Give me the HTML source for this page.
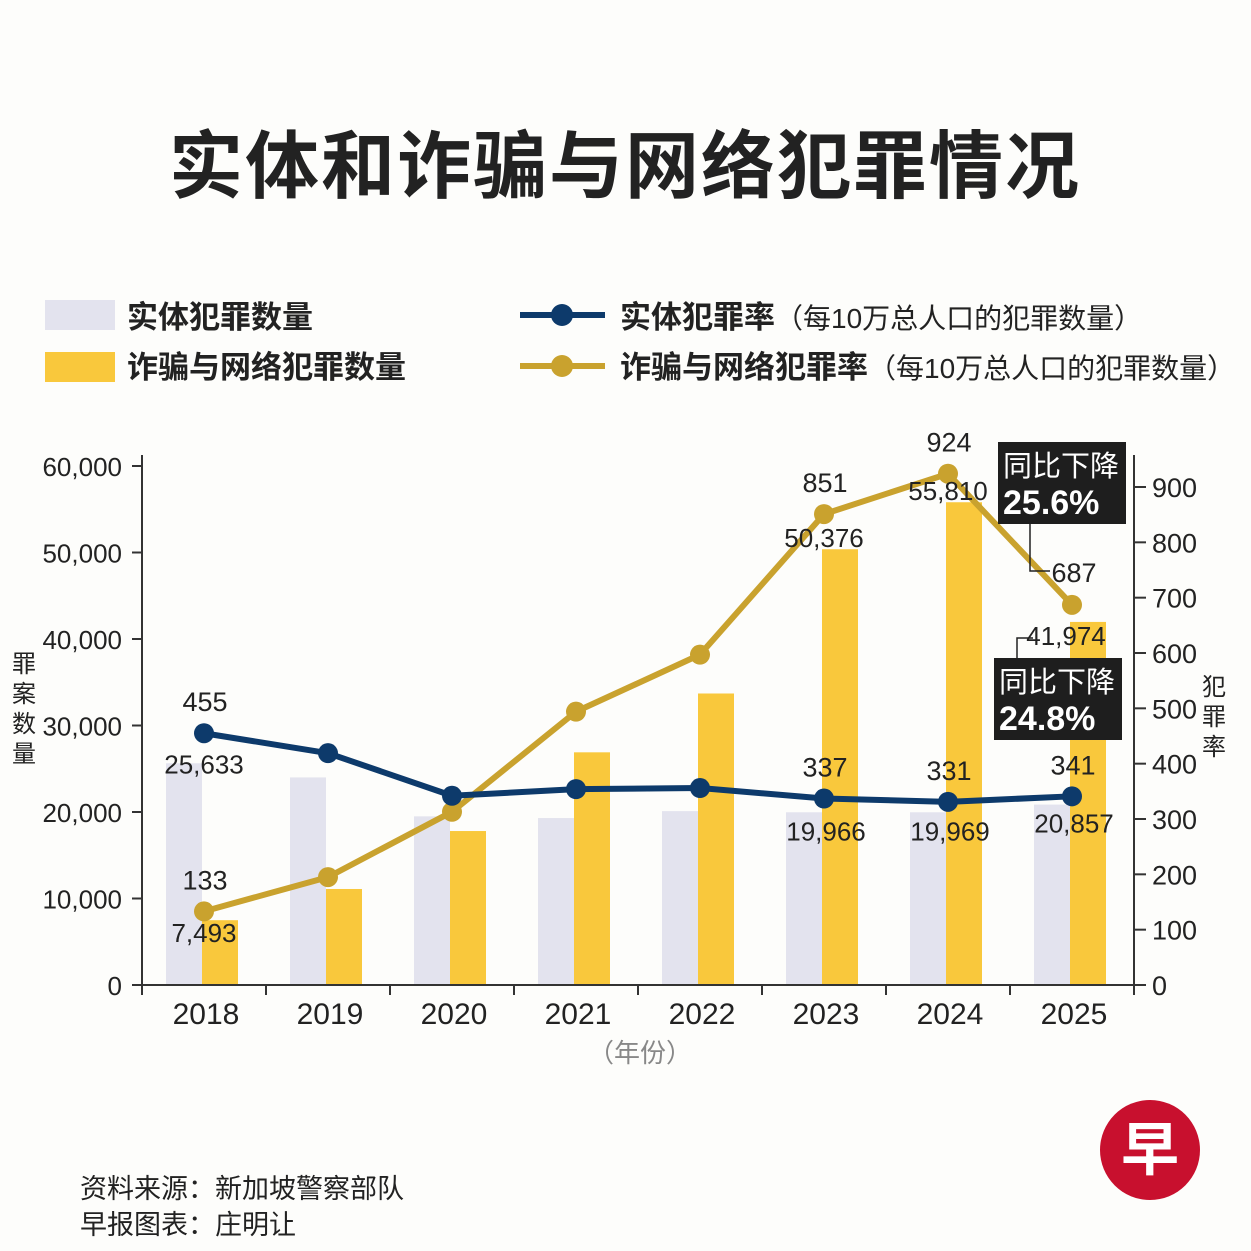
<!DOCTYPE html>
<html><head><meta charset="utf-8"><style>
body{margin:0;background:#fdfdfb;}
svg{display:block;font-family:"Liberation Sans","Noto Sans CJK SC",sans-serif;}
</style></head><body>
<svg id="c" width="1251" height="1251" viewBox="0 0 1251 1251">
<rect width="1251" height="1251" fill="#fdfdfb"/>
<text x="625" y="192" text-anchor="middle" font-size="74" font-weight="bold" fill="#222" letter-spacing="2">实体和诈骗与网络犯罪情况</text>
<g font-weight="bold" font-size="31" fill="#222">
<rect x="45" y="300" width="70" height="30" fill="#e3e3ee"/>
<text x="127" y="328">实体犯罪数量</text>
<rect x="45" y="352" width="70" height="30" fill="#f9c83c"/>
<text x="127" y="378">诈骗与网络犯罪数量</text>
<line x1="520" y1="315" x2="605" y2="315" stroke="#0d3a6b" stroke-width="6"/>
<circle cx="562" cy="315" r="11" fill="#0d3a6b"/>
<text x="620" y="328">实体犯罪率<tspan font-weight="normal" font-size="28">（每10万总人口的犯罪数量）</tspan></text>
<line x1="520" y1="366" x2="605" y2="366" stroke="#c9a22e" stroke-width="6"/>
<circle cx="562" cy="366" r="11" fill="#c9a22e"/>
<text x="620" y="378">诈骗与网络犯罪率<tspan font-weight="normal" font-size="28">（每10万总人口的犯罪数量）</tspan></text>
</g>
<g id="plot"></g>
<text x="640" y="1062" text-anchor="middle" font-size="26" fill="#888">（年份）</text>
<text font-size="24" fill="#222"><tspan x="12" y="672">罪</tspan><tspan x="12" y="702">案</tspan><tspan x="12" y="732">数</tspan><tspan x="12" y="762">量</tspan></text>
<text font-size="24" fill="#222"><tspan x="1202" y="695">犯</tspan><tspan x="1202" y="725">罪</tspan><tspan x="1202" y="755">率</tspan></text>
<text x="80" y="1198" font-size="27" fill="#222">资料来源：新加坡警察部队</text>
<text x="80" y="1234" font-size="27" fill="#222">早报图表：庄明让</text>
<g><circle cx="1150" cy="1150" r="50" fill="#c8102e"/><text x="1150" y="1170" text-anchor="middle" font-size="58" font-weight="bold" fill="#fff">早</text></g>
</svg>
<script>
const years=["2018","2019","2020","2021","2022","2023","2024","2025"];
const physCount=[25633,24000,19500,19300,20100,19966,19969,20857];
const scamCount=[7493,11100,17800,26900,33700,50376,55810,41974];
const physRate=[455,419,342,354,356,337,331,341];
const scamRate=[133,195,313,494,597,851,924,687];
const physCountLabels=["25,633","","","","","19,966","19,969","20,857"];
const scamCountLabels=["7,493","","","","","50,376","55,810",""];
const physRateLabels=["455","","","","","337","331","341"];
const scamRateLabels=["133","","","","","851","924",""];
const leftTicks=[0,10000,20000,30000,40000,50000,60000];
const rightTicks=[0,100,200,300,400,500,600,700,800,900];
const NS="http://www.w3.org/2000/svg";
const g=document.getElementById('plot');
const x0=142,x1=1134,y0=985;
const band=(x1-x0)/years.length;
const xc=i=>x0+band*(i+0.5);
const yL=v=>y0-v/60000*519;
const yR=v=>y0-v/900*498;
function mk(t,a,p){const e=document.createElementNS(NS,t);for(const k in a)e.setAttribute(k,a[k]);(p||g).appendChild(e);return e;}
function txt(x,y,s,sz,anchor){const e=mk('text',{x:x,y:y,'font-size':sz,'text-anchor':anchor||'middle',fill:'#222'});e.textContent=s;return e;}
years.forEach((yr,i)=>{
 const b1=mk('rect',{x:xc(i)-38,y:yL(physCount[i]),width:36,height:y0-yL(physCount[i]),fill:'#e3e3ee'});
 
 
 const b2=mk('rect',{x:xc(i)-2,y:yL(scamCount[i]),width:36,height:y0-yL(scamCount[i]),fill:'#f9c83c'});
 
 
});
const ax=mk('line',{x1:x0,y1:y0,x2:x1,y2:y0,stroke:'#333','stroke-width':2});


mk('line',{x1:x0,y1:455,x2:x0,y2:y0,stroke:'#333','stroke-width':2});
mk('line',{x1:x1,y1:455,x2:x1,y2:y0,stroke:'#333','stroke-width':2});
for(let i=0;i<=years.length;i++)mk('line',{x1:x0+band*i,y1:y0,x2:x0+band*i,y2:y0+10,stroke:'#333','stroke-width':2});
years.forEach((yr,i)=>{const t=txt(xc(i)+2,1024,yr,30);});
leftTicks.forEach(v=>{mk('line',{x1:x0-10,y1:yL(v),x2:x0,y2:yL(v),stroke:'#333','stroke-width':2});
 const t=txt(x0-20,yL(v)+10,v.toLocaleString('en-US'),26,'end');});
rightTicks.forEach(v=>{mk('line',{x1:x1,y1:yR(v),x2:x1+12,y2:yR(v),stroke:'#333','stroke-width':2});
 const t=txt(x1+18,yR(v)+10,String(v),27,'start');});
function line(vals,col,name){
 const p=mk('polyline',{points:vals.map((v,i)=>xc(i)+','+yR(v)).join(' '),fill:'none',stroke:col,'stroke-width':6,'stroke-linejoin':'round'});
 
 
 vals.forEach((v,i)=>{const c=mk('circle',{cx:xc(i),cy:yR(v),r:10,fill:col});
  
  });
}
line(scamRate,'#c9a22e','scam-rate-line');
line(physRate,'#0d3a6b','physical-rate-line');
years.forEach((yr,i)=>{
 if(physRateLabels[i])txt(xc(i)+1,yR(physRate[i])-22,physRateLabels[i],27);
 if(scamRateLabels[i])txt(xc(i)+1,yR(scamRate[i])-22,scamRateLabels[i],27);
 if(physCountLabels[i])txt(xc(i)+(i==0?0:2),i==0?yL(physCount[i])+10:yL(physCount[i])+28,physCountLabels[i],26);
 if(scamCountLabels[i])txt(xc(i),i==0?yL(scamCount[i])+22:yL(scamCount[i])-2,scamCountLabels[i],26);
});
txt(1074,582,"687",27);txt(1066,645,"41,974",26);
mk('polyline',{points:'1030,520 1030,571 1050,571',fill:'none',stroke:'#222','stroke-width':1.5});
mk('polyline',{points:'1017,658 1017,638 1033,638',fill:'none',stroke:'#222','stroke-width':1.5});
function callout(x,y,a,b,name){const r=mk('rect',{x:x,y:y,width:128,height:82,fill:'#1e1e1e'});
 
 const t1=txt(x+5,y+34,a,29,'start');t1.setAttribute('fill','#fff');
 const t2=txt(x+5,y+72,b,34,'start');t2.setAttribute('fill','#fff');t2.setAttribute('font-weight','bold');}
callout(998,442,"同比下降","25.6%","callout-rate-drop");
callout(994,658,"同比下降","24.8%","callout-count-drop");
</script>
</body></html>
